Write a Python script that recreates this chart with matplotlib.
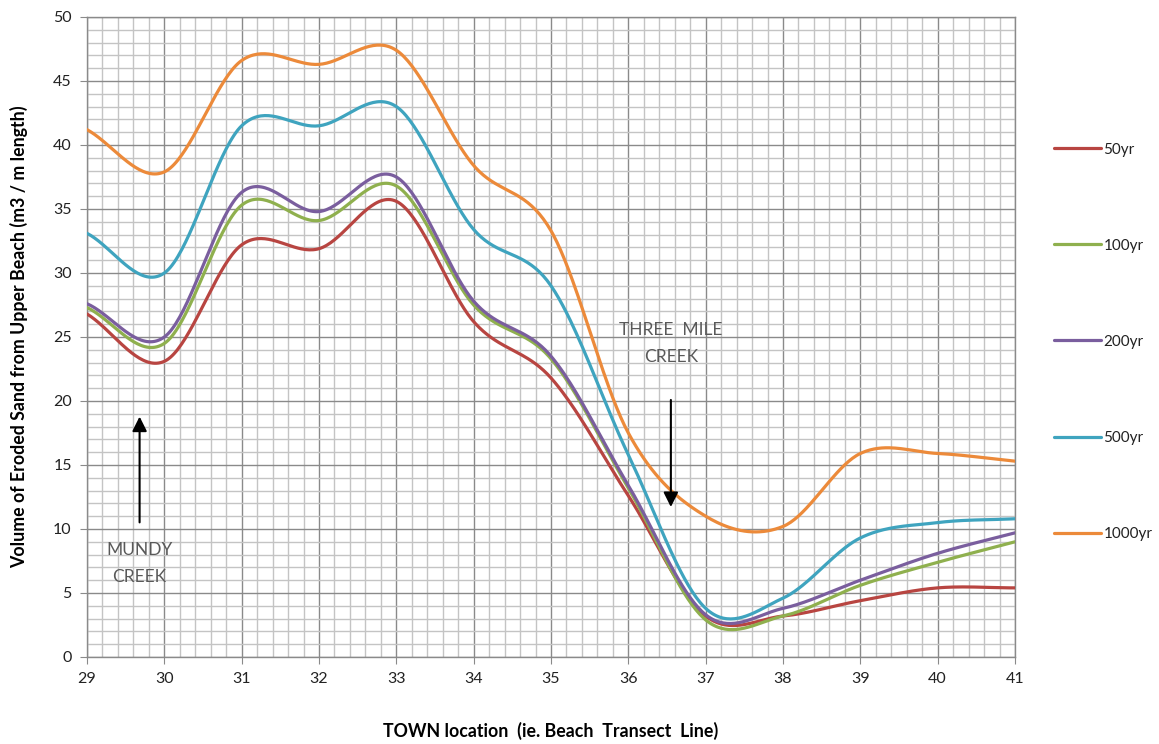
import numpy as np
import matplotlib
matplotlib.use("Agg")
import matplotlib.pyplot as plt
from matplotlib.ticker import MultipleLocator

# transect lines (x) and eroded sand volume per return period
transects = [29, 30, 31, 32, 33, 34, 35, 36, 37, 38, 39, 40, 41]
yr50 = [26.8, 23.1, 32.2, 31.9, 35.6, 26.2, 21.8, 12.6, 3.2, 3.2, 4.4, 5.4, 5.4]
yr100 = [27.3, 24.5, 35.3, 34.1, 36.8, 27.5, 23.3, 13.2, 2.9, 3.2, 5.6, 7.4, 9.0]
yr200 = [27.6, 25.0, 36.3, 34.8, 37.5, 27.8, 23.5, 13.4, 3.3, 3.8, 6.0, 8.1, 9.7]
yr500 = [33.1, 30.0, 41.5, 41.5, 43.0, 33.4, 29.0, 15.8, 3.8, 4.6, 9.3, 10.5, 10.8]
yr1000 = [41.2, 37.9, 46.6, 46.3, 47.4, 38.4, 33.3, 17.5, 11.0, 10.2, 15.9, 15.9, 15.3]

series_labels = ["50yr", "100yr", "200yr", "500yr", "1000yr"]
series_colors = ["#B84541", "#8FB04E", "#7A5E9E", "#3FA4BF", "#EC8A3A"]

plt.rcParams['font.family'] = ['Lato', 'DejaVu Sans']


def smooth_line(x, y, steps=40):

    """
    Excel style smoothed line (Catmull-Rom through every point)
    """
    x = np.asarray(x, dtype=float)
    y = np.asarray(y, dtype=float)
    px = np.concatenate([[2 * x[0] - x[1]], x, [2 * x[-1] - x[-2]]])
    py = np.concatenate([[2 * y[0] - y[1]], y, [2 * y[-1] - y[-2]]])
    t = np.linspace(0, 1, steps, endpoint=False)
    xs, ys = [], []
    for i in range(1, len(px) - 2):
        for arr, out in ((px, xs), (py, ys)):
            p0, p1, p2, p3 = arr[i - 1], arr[i], arr[i + 1], arr[i + 2]
            out.append(0.5 * (2 * p1 + (-p0 + p2) * t
                              + (2 * p0 - 5 * p1 + 4 * p2 - p3) * t ** 2
                              + (-p0 + 3 * p1 - 3 * p2 + p3) * t ** 3))
    xs.append([x[-1]])
    ys.append([y[-1]])
    return np.concatenate(xs), np.concatenate(ys)


fig = plt.figure(figsize=(11.59, 7.44), dpi=100)
ax = fig.add_axes([87 / 1159, 87 / 744, 928 / 1159, 640 / 744])

for values, label, color in zip([yr50, yr100, yr200, yr500, yr1000], series_labels, series_colors):
    sx, sy = smooth_line(transects, values)
    ax.plot(sx, sy, color=color, lw=2.3, label=label, solid_capstyle='round', zorder=3)

ax.set_xlim(29, 41)
ax.set_ylim(0, 50)
ax.xaxis.set_major_locator(MultipleLocator(1))
ax.xaxis.set_minor_locator(MultipleLocator(0.2))
ax.yaxis.set_major_locator(MultipleLocator(5))
ax.yaxis.set_minor_locator(MultipleLocator(1))
ax.grid(which='major', color='#8A8A8A', lw=1.0)
ax.grid(which='minor', color='#C4C4C4', lw=1.0)
ax.set_axisbelow(True)
for side in ['top', 'right', 'left', 'bottom']:
    ax.spines[side].set_color('#8A8A8A')
    ax.spines[side].set_linewidth(1.0)
ax.tick_params(which='major', length=5, color='#8A8A8A', labelsize=11.5, labelcolor='#222222', pad=6)
ax.tick_params(which='minor', length=0)

ax.set_xlabel("TOWN location  (ie. Beach  Transect  Line)", fontsize=12.8, fontweight='bold', labelpad=26)
ax.set_ylabel("Volume of Eroded Sand from Upper Beach (m3 / m length)", fontsize=12.8,
              fontweight='bold', labelpad=18)

# creek annotations
ax.annotate("", xy=(29.68, 19.0), xytext=(29.68, 10.3),
            arrowprops=dict(arrowstyle='-|>', color='black', lw=1.5, mutation_scale=22))
ax.text(29.68, 7.3, "MUNDY\nCREEK", ha='center', va='center', fontsize=12.5,
        color='#595959', linespacing=1.8)
ax.annotate("", xy=(36.55, 11.5), xytext=(36.55, 20.3),
            arrowprops=dict(arrowstyle='-|>', color='black', lw=1.5, mutation_scale=22))
ax.text(36.55, 24.5, "THREE  MILE\nCREEK", ha='center', va='center', fontsize=12.5,
        color='#595959', linespacing=1.8)

fig.legend(loc='upper left', bbox_to_anchor=(1040 / 1159, 1 - 129 / 744), frameon=False,
           fontsize=11, labelspacing=5.37, handlelength=3.1, handletextpad=0.15,
           labelcolor='#222222')

fig.savefig("out.png", dpi=100)
